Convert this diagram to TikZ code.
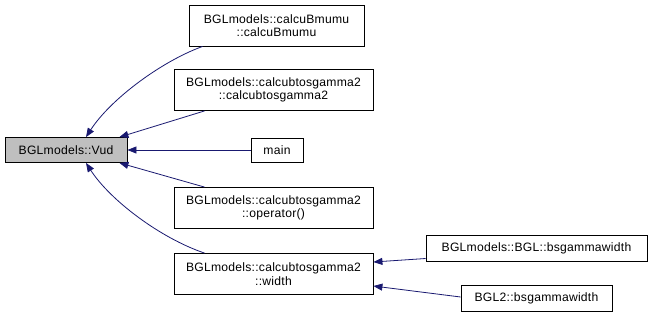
\documentclass[tikz,border=0pt]{standalone}
\usepackage{fontspec}
\setmainfont{Liberation Sans}[LetterSpace=2]
\usetikzlibrary{arrows.meta}
\definecolor{edgeblue}{HTML}{191970}
\definecolor{hlgray}{HTML}{BFBFBF}
\begin{document}
\begin{tikzpicture}[x=1bp,y=-1bp,
  fn/.style={draw=black,line width=0.8bp,fill=white,inner sep=0pt,align=center,
    font=\fontsize{12.2}{13.5}\selectfont},
  call/.style={draw=edgeblue,line width=0.8bp,
    {Triangle[length=9bp,width=7bp]}-}]
\useasboundingbox (0,0) rectangle (652,318);
% functions
\node[fn,fill=hlgray,minimum width=122bp,minimum height=25bp] (vud) at (66,150) {BGLmodels::Vud};
\node[fn,minimum width=175bp,minimum height=41bp] (bm) at (276.5,25.5) {BGLmodels::calcuBmumu\\::calcuBmumu};
\node[fn,minimum width=199bp,minimum height=41bp] (cg) at (273.5,90) {BGLmodels::calcubtosgamma2\\::calcubtosgamma2};
\node[fn,minimum width=52bp,minimum height=24bp] (mn) at (277,150) {main};
\node[fn,minimum width=199bp,minimum height=41bp] (op) at (273.5,208) {BGLmodels::calcubtosgamma2\\::operator()};
\node[fn,minimum width=199bp,minimum height=41bp] (wd) at (273.5,274) {BGLmodels::calcubtosgamma2\\::width};
\node[fn,minimum width=221bp,minimum height=26bp] (bgl) at (536.5,248.5) {BGLmodels::BGL::bsgammawidth};
\node[fn,minimum width=151bp,minimum height=26bp] (bgl2) at (536.5,298) {BGL2::bsgammawidth};
% calls
\draw[call] ([xshift=20bp]vud.north) .. controls (110,100) and (160,62) .. ([xshift=14bp]bm.south west);
\draw[call] ([xshift=-8bp]vud.north east) -- ([xshift=31bp]cg.south west);
\draw[call] (vud.east) -- (mn.west);
\draw[call] ([xshift=-8bp]vud.south east) -- ([xshift=31bp]op.north west);
\draw[call] ([xshift=20bp]vud.south) .. controls (110,200) and (160,238) .. ([xshift=31bp]wd.north west);
\draw[call] ([yshift=12bp]wd.east) -- ([yshift=-10bp]bgl.west);
\draw[call] ([yshift=-12bp]wd.east) -- ([yshift=1bp]bgl2.west);
\end{tikzpicture}
\end{document}
